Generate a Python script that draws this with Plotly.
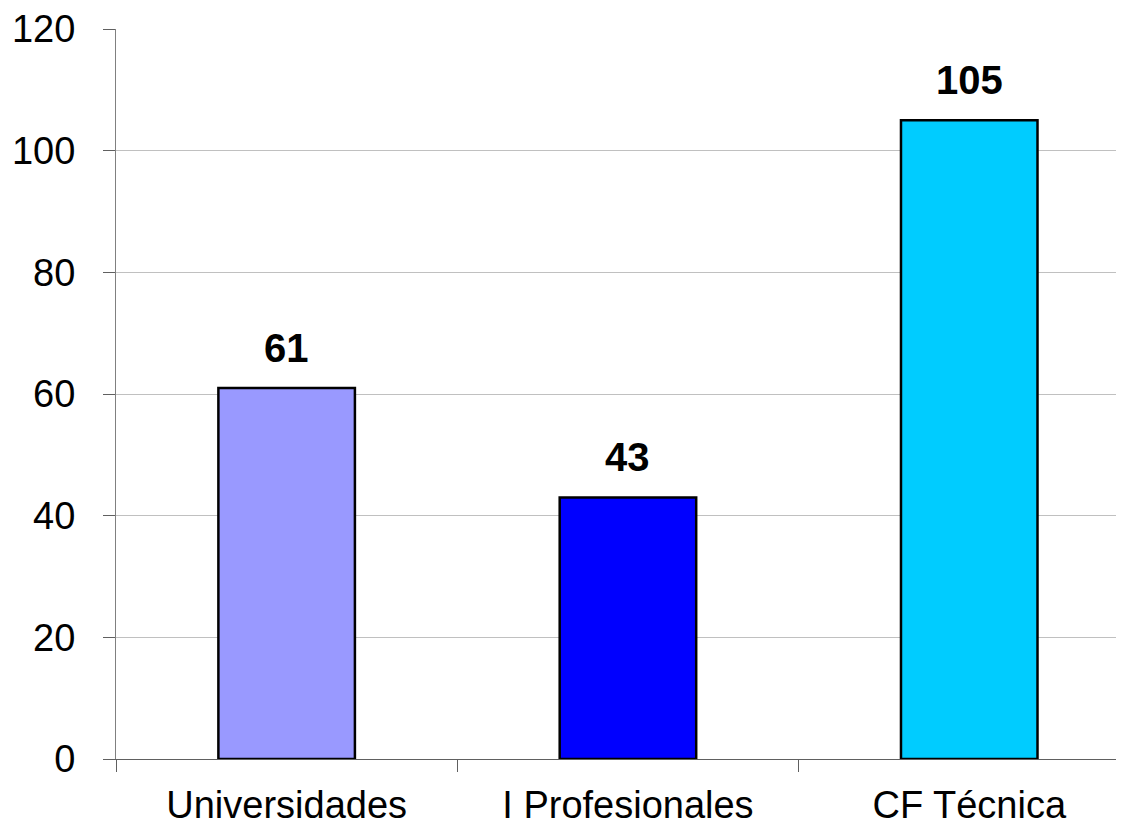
import plotly.graph_objects as go

categories = ["Universidades", "I Profesionales", "CF Técnica"]
values = [61, 43, 105]
bar_colors = ["#9999FF", "#0000FF", "#00CCFF"]
y_ticks = [0, 20, 40, 60, 80, 100, 120]
grid_ticks = [20, 40, 60, 80, 100]

FONT = "Liberation Sans, Arial, sans-serif"

fig = go.Figure()
fig.add_trace(go.Bar(
    x=categories, y=values, width=0.4,
    marker=dict(color=bar_colors, line=dict(color="black", width=2.5)),
    hoverinfo="skip",
))
# invisible trace on secondary y axis to hold gridlines
fig.add_trace(go.Scatter(x=categories, y=values, yaxis="y2", mode="none",
                         showlegend=False, hoverinfo="skip"))

for c, v in zip(categories, values):
    fig.add_annotation(x=c, y=v, text=f"<b>{v}</b>", showarrow=False,
                       yanchor="bottom", yshift=16,
                       font=dict(family=FONT, size=40, color="black"))

fig.update_layout(
    width=1108, height=819,
    margin=dict(l=108, r=0, t=21, b=68),
    paper_bgcolor="white", plot_bgcolor="white",
    showlegend=False,
    font=dict(family=FONT, size=39, color="black"),
    xaxis=dict(
        type="category", range=[-0.5, 2.43], automargin=False,
        tickson="boundaries", ticks="outside", ticklen=12, tickwidth=1,
        tickcolor="#606060", showline=True, linecolor="#606060", linewidth=1,
        showgrid=False, ticklabelstandoff=12, ticklabeloverflow="allow",
        tickfont=dict(family=FONT, size=38, color="black"),
    ),
    yaxis=dict(
        range=[0, 120], tickvals=y_ticks, ticks="outside", ticklen=12,
        tickwidth=1, tickcolor="#606060", showline=True, linecolor="#808080",
        linewidth=1, showgrid=False, zeroline=False, ticklabelstandoff=20,
        automargin=False, ticklabeloverflow="allow",
        tickfont=dict(family=FONT, size=38, color="black"),
    ),
    yaxis2=dict(
        overlaying="y", range=[0, 120], tickvals=grid_ticks, showticklabels=False,
        showgrid=True, gridcolor="#C0C0C0", gridwidth=1, zeroline=False,
        showline=False, ticks="",
    ),
)

fig.write_html("out.html")
